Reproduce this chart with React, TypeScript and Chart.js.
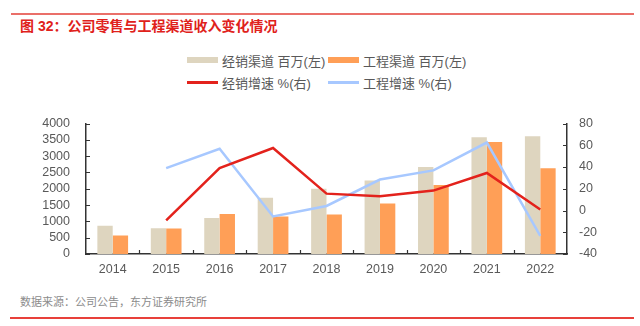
import React, { useEffect, useRef } from 'react';
import { Chart, registerables } from 'chart.js';

Chart.register(...registerables);

const years = ['2014', '2015', '2016', '2017', '2018', '2019', '2020', '2021', '2022'];
const distributionRevenue = [868, 792, 1104, 1726, 2000, 2255, 2670, 3575, 3613];
const engineeringRevenue = [566, 783, 1226, 1151, 1208, 1547, 2113, 3434, 2632];
const distributionGrowth = [null, -9, 39, 57.5, 15.5, 13, 18.3, 34.5, 1];
const engineeringGrowth = [null, 39, 56.8, -5.5, 4.2, 28.5, 36.9, 62.5, -23.3];

const seriesLabels = ['经销渠道 百万(左)', '工程渠道 百万(左)', '经销增速 %(右)', '工程增速 %(右)'];
const seriesColors = ['#DED5BF', '#FF9F57', '#E3221C', '#A7C8FF'];

const titleText = '图 32：公司零售与工程渠道收入变化情况';
const sourceText = '数据来源：公司公告，东方证券研究所';

const FONT = '"Liberation Sans", "Noto Sans CJK SC", Arial, sans-serif';
const TEXT_GRAY = '#595959';
const AXIS = '#333333';

const innerTicks = {
  id: 'innerTicks',
  afterDatasetsDraw(chart: any) {
    const ctx = chart.ctx;
    const xs = chart.scales.x;
    const ys = chart.scales.y;
    const ys1 = chart.scales.y1;
    ctx.save();
    ctx.strokeStyle = AXIS;
    ctx.lineWidth = 1.2;
    ctx.beginPath();
    ys.ticks.forEach((_t: any, i: number) => {
      const y = Math.round(ys.getPixelForTick(i)) + 0.5;
      ctx.moveTo(ys.right, y);
      ctx.lineTo(ys.right + 4, y);
    });
    ys1.ticks.forEach((_t: any, i: number) => {
      const y = Math.round(ys1.getPixelForTick(i)) + 0.5;
      ctx.moveTo(ys1.left, y);
      ctx.lineTo(ys1.left - 4, y);
    });
    for (let i = 1; i < years.length; i++) {
      const x = Math.round((xs.getPixelForValue(i - 1) + xs.getPixelForValue(i)) / 2) + 0.5;
      ctx.moveTo(x, xs.top);
      ctx.lineTo(x, xs.top - 4);
    }
    ctx.stroke();
    ctx.restore();
  },
};

function ChartCanvas() {
  const ref = useRef<HTMLCanvasElement | null>(null);
  useEffect(() => {
    if (!ref.current) return;
    const chart = new Chart(ref.current, {
      type: 'bar',
      data: {
        labels: years,
        datasets: [
          {
            type: 'line',
            label: seriesLabels[2],
            data: distributionGrowth,
            borderColor: seriesColors[2],
            backgroundColor: seriesColors[2],
            borderWidth: 2.5,
            pointRadius: 0,
            tension: 0,
            yAxisID: 'y1',
            order: 0,
          },
          {
            type: 'line',
            label: seriesLabels[3],
            data: engineeringGrowth,
            borderColor: seriesColors[3],
            backgroundColor: seriesColors[3],
            borderWidth: 2.5,
            pointRadius: 0,
            tension: 0,
            yAxisID: 'y1',
            order: 1,
          },
          {
            type: 'bar',
            label: seriesLabels[0],
            data: distributionRevenue,
            backgroundColor: seriesColors[0],
            yAxisID: 'y',
            categoryPercentage: 0.575,
            barPercentage: 1,
            order: 2,
          },
          {
            type: 'bar',
            label: seriesLabels[1],
            data: engineeringRevenue,
            backgroundColor: seriesColors[1],
            yAxisID: 'y',
            categoryPercentage: 0.575,
            barPercentage: 1,
            order: 2,
          },
        ] as any,
      },
      options: {
        animation: false,
        responsive: false,
        maintainAspectRatio: false,
        layout: { padding: { top: 13, left: 0, right: 0, bottom: 0 } },
        plugins: {
          legend: { display: false },
          tooltip: { enabled: false },
        },
        scales: {
          x: {
            grid: { display: false, drawTicks: false },
            border: { display: true, color: AXIS, width: 1.5 },
            ticks: { color: TEXT_GRAY, font: { family: FONT, size: 12.5 }, padding: 8 },
            afterFit: (s: any) => { s.height = 31; },
          },
          y: {
            position: 'left',
            min: 0,
            max: 4000,
            grid: { display: false, drawTicks: false },
            border: { display: true, color: AXIS, width: 1.5 },
            ticks: {
              stepSize: 500,
              autoSkip: false,
              color: TEXT_GRAY,
              font: { family: FONT, size: 12.5 },
              padding: 16,
              callback: (v: any) => String(v),
            },
            afterFit: (s: any) => { s.width = 86; },
          },
          y1: {
            position: 'right',
            min: -40,
            max: 80,
            grid: { display: false, drawTicks: false },
            border: { display: true, color: AXIS, width: 1.5 },
            ticks: {
              stepSize: 20,
              autoSkip: false,
              color: TEXT_GRAY,
              font: { family: FONT, size: 12.5 },
              padding: 12,
              callback: (v: any) => String(v),
            },
            afterFit: (s: any) => { s.width = 73; },
          },
        },
      } as any,
      plugins: [innerTicks],
    });
    return () => chart.destroy();
  }, []);
  return <canvas ref={ref} width={640} height={185} style={{ display: 'block' }} />;
}

function LegendItem({ idx }: { idx: number }) {
  const isBar = idx < 2;
  return (
    <div style={{ display: 'flex', alignItems: 'center', height: 22 }}>
      <span
        style={{
          display: 'inline-block',
          width: 31,
          height: isBar ? 6 : 3,
          background: seriesColors[idx],
          marginRight: 4,
        }}
      />
      <span style={{ fontSize: 13, color: TEXT_GRAY, whiteSpace: 'nowrap' }}>{seriesLabels[idx]}</span>
    </div>
  );
}

export default function App() {
  useEffect(() => {
    document.body.style.margin = '0';
  }, []);
  return (
    <div
      style={{
        position: 'fixed',
        left: 0,
        top: 0,
        width: 640,
        height: 326,
        background: '#fff',
        fontFamily: FONT,
        overflow: 'hidden',
      }}
    >
      <div style={{ position: 'absolute', left: 11, width: 623, top: 13, height: 2, background: '#EA6F69' }} />
      <div
        style={{
          position: 'absolute',
          left: 20,
          top: 17,
          fontSize: 14,
          fontWeight: 'bold',
          color: '#E0211B',
          whiteSpace: 'nowrap',
          lineHeight: '18px',
        }}
      >
        {titleText}
      </div>
      <div style={{ position: 'absolute', left: 187, top: 49 }}>
        <div style={{ display: 'flex' }}>
          <div style={{ width: 141 }}><LegendItem idx={0} /></div>
          <div><LegendItem idx={1} /></div>
        </div>
        <div style={{ display: 'flex' }}>
          <div style={{ width: 141 }}><LegendItem idx={2} /></div>
          <div><LegendItem idx={3} /></div>
        </div>
      </div>
      <div style={{ position: 'absolute', left: 0, top: 100, width: 640, height: 185 }}>
        <ChartCanvas />
      </div>
      <div
        style={{
          position: 'absolute',
          left: 20,
          top: 294,
          fontSize: 11,
          color: '#8C8C8C',
          whiteSpace: 'nowrap',
          lineHeight: '16px',
        }}
      >
        {sourceText}
      </div>
      <div style={{ position: 'absolute', left: 10, width: 624, top: 317, height: 1.5, background: '#E8403A' }} />
    </div>
  );
}
